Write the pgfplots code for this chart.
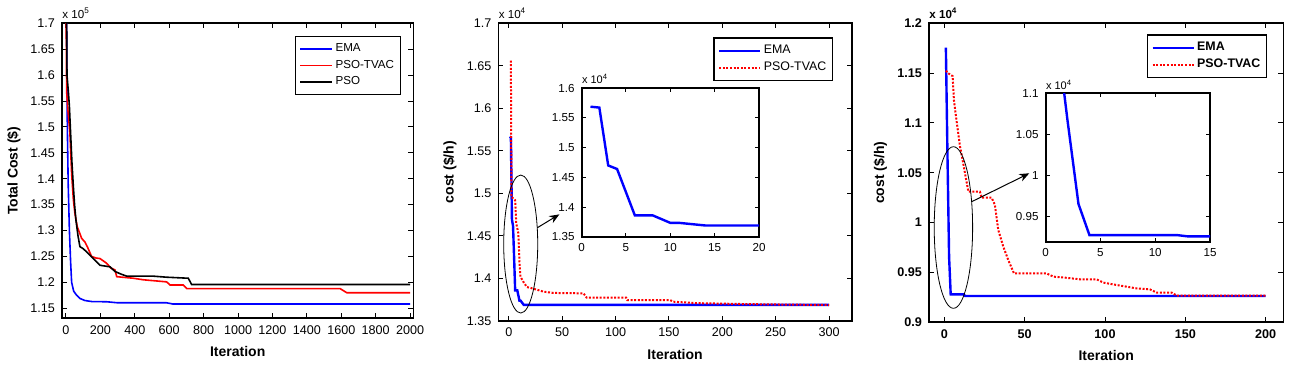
\documentclass[border=0pt]{standalone}
\usepackage{fontspec}
\setmainfont{Liberation Sans}
\usepackage{pgfplots}
\pgfplotsset{compat=1.18}
\usetikzlibrary{arrows.meta}
\newcommand{\fs}[1]{\fontsize{#1}{#1}\selectfont}
\definecolor{mblue}{rgb}{0,0,1}
\definecolor{mred}{rgb}{1,0,0}
\pgfplotsset{
  mat/.style={
    scale only axis,
    clip mode=individual,
    axis line style={line width=0.9pt},
    tick align=inside, major tick length=2.5pt,
    tick style={line width=0.5pt,black},
    ticklabel style={font=\fs{6.3}},
    every axis y label/.style={at={(axis description cs:-0.137,0.5)},rotate=90,anchor=center,font=\bfseries\fs{7}},
    every axis x label/.style={at={(axis description cs:0.5,-0.112)},anchor=center,font=\bfseries\fs{7}},
    legend style={draw=black, line width=0.7pt, font=\fs{6}, cells={anchor=west}, inner xsep=2pt, inner ysep=1.5pt, row sep=-1.3pt, nodes={inner xsep=1.2pt}},
    legend cell align=left,
  },
  inset/.style={
    scale only axis,
    clip mode=individual,
    axis background/.style={fill=white},
    axis line style={line width=0.9pt},
    tick align=inside, major tick length=2pt,
    tick style={line width=0.5pt,black},
    ticklabel style={font=\fs{5.8}},
  },
}
\begin{document}
\begin{tikzpicture}
\useasboundingbox (0,0) rectangle (654pt,189.5pt);
% ---------------- Panel 1 ----------------
\begin{axis}[mat, at={(31pt,30.35pt)}, anchor=south west,
  width=175.7pt, height=147.5pt,
  xmin=-23, xmax=2019, ymin=1.1307, ymax=1.7,
  xtick={0,200,400,600,800,1000,1200,1400,1600,1800,2000},
  xticklabels={0,200,400,600,800,1000,1200,1400,1600,1800,2000},
  ytick={1.15,1.2,1.25,1.3,1.35,1.4,1.45,1.5,1.55,1.6,1.65,1.7},
  yticklabels={1.15,1.2,1.25,1.3,1.35,1.4,1.45,1.5,1.55,1.6,1.65,1.7},
  xlabel={Iteration}, ylabel={Total Cost (\$)},
  legend style={at={(axis description cs:0.965,0.957)},anchor=north east,font=\fs{5.8}},
  legend image code/.code={\draw[#1] (0pt,0pt) -- (16pt,0pt);},
]
\addplot[mblue, line width=0.8pt] coordinates {
(1,1.85)(4,1.70)(8,1.50)(13,1.39)(20,1.30)(27,1.24)(33,1.20)(45,1.183)(60,1.176)(81,1.169)(110,1.165)(150,1.163)(237,1.1626)(300,1.1606)(585,1.1606)(622,1.1582)(2000,1.1582)};
\addplot[mred, line width=0.8pt] coordinates {
(1,1.72)(4,1.568)(12,1.53)(23,1.488)(33,1.41)(43,1.36)(52,1.333)(66,1.307)(80,1.295)(91,1.285)(110,1.278)(124,1.269)(149,1.25)(175,1.247)(198,1.246)(236,1.237)(260,1.228)(285,1.224)(295,1.211)(391,1.208)(450,1.205)(585,1.201)(605,1.195)(682,1.195)(702,1.188)(1593,1.188)(1632,1.180)(2000,1.180)};
\addplot[black, line width=0.8pt] coordinates {
(1,1.85)(6,1.60)(14,1.568)(20,1.54)(27,1.488)(35,1.43)(43,1.385)(50,1.35)(58,1.32)(70,1.29)(81,1.269)(100,1.265)(120,1.259)(159,1.246)(198,1.233)(256,1.23)(285,1.221)(320,1.216)(353,1.212)(508,1.212)(585,1.21)(711,1.208)(730,1.196)(2000,1.196)};
\legend{EMA,PSO-TVAC,PSO}
\node[anchor=south west, font=\fs{5.8}, inner sep=0pt] at (axis description cs:0,1.015) {x 10\textsuperscript{5}};
\end{axis}
% ---------------- Panel 2 ----------------
\begin{axis}[mat, at={(249.2pt,29pt)}, anchor=south west,
  width=176.7pt, height=148.8pt,
  xmin=-9.7, xmax=321.3, ymin=1.35, ymax=1.7,
  xtick={0,50,100,150,200,250,300},
  xticklabels={0,50,100,150,200,250,300},
  ytick={1.35,1.4,1.45,1.5,1.55,1.6,1.65,1.7},
  yticklabels={1.35,1.4,1.45,1.5,1.55,1.6,1.65,1.7},
  xlabel={Iteration}, ylabel={cost (\$/h)},
  legend style={at={(axis description cs:0.948,0.953)},anchor=north east,font=\fs{6.2}},
  legend image code/.code={\draw[#1] (0pt,0pt) -- (20.5pt,0pt);},
]
\addplot[mblue, line width=1.2pt] coordinates {
(1,1.567)(2,1.566)(3,1.469)(4,1.462)(5,1.425)(6,1.386)(8,1.386)(10,1.374)(11,1.374)(14,1.369)(300,1.369)};
\addplot[mred, line width=1pt, dash pattern=on 1pt off 0.8pt] coordinates {
(1,1.655)(2,1.655)(2.5,1.496)(6,1.492)(7,1.465)(9,1.453)(10,1.42)(11,1.402)(13.7,1.396)(16.9,1.39)(23,1.388)(32.5,1.3845)(41.8,1.383)(70,1.3825)(73,1.3774)(110,1.3774)(111,1.3746)(151,1.3746)(154,1.3727)(176,1.371)(217,1.37)(245,1.3695)(300,1.3688)};
\legend{EMA,PSO-TVAC}
\draw[line width=0.4pt] (axis cs:11.2,1.4405) ellipse [x radius=8.5pt, y radius=34.5pt];
\draw[line width=0.5pt,-{Stealth[length=5pt,width=4pt]}] (axis cs:26.8,1.4597) -- (axis cs:47.4,1.4754);
\node[anchor=south west, font=\fs{5.8}, inner sep=0pt] at (axis description cs:0,1.015) {x 10\textsuperscript{4}};
\end{axis}
\begin{axis}[inset, at={(290.8pt,71.15pt)}, anchor=south west,
  width=88.7pt, height=74.2pt,
  xmin=0, xmax=20, ymin=1.35, ymax=1.6,
  xtick={0,5,10,15,20}, xticklabels={0,5,10,15,20},
  ytick={1.35,1.4,1.45,1.5,1.55,1.6}, yticklabels={1.35,1.4,1.45,1.5,1.55,1.6},
]
\addplot[mblue, line width=1.2pt] coordinates {
(1,1.569)(2,1.5675)(3,1.470)(4,1.464)(5,1.425)(6,1.386)(8,1.386)(10,1.3733)(11,1.3733)(14,1.3688)(20,1.3688)};
\node[anchor=south west, font=\fs{5.5}, inner sep=0pt] at (axis description cs:0,1.03) {x 10\textsuperscript{4}};
\end{axis}
% ---------------- Panel 3 ----------------
\begin{axis}[mat, at={(464.5pt,28.35pt)}, anchor=south west,
  width=177.2pt, height=149.5pt,
  xmin=-9.5, xmax=211, ymin=0.9, ymax=1.2,
  ticklabel style={font=\bfseries\fs{6.3}},
  xtick={0,50,100,150,200},
  xticklabels={0,50,100,150,200},
  ytick={0.9,0.95,1,1.05,1.1,1.15,1.2},
  yticklabels={0.9,0.95,1,1.05,1.1,1.15,1.2},
  xlabel={Iteration}, ylabel={cost (\$/h)},
  legend style={at={(axis description cs:0.955,0.963)},anchor=north east,font=\bfseries\fs{6.2}},
  legend image code/.code={\draw[#1] (0pt,0pt) -- (20.5pt,0pt);},
]
\addplot[mblue, line width=1.2pt] coordinates {
(1,1.1756)(2,1.067)(3,0.9657)(4,0.928)(12,0.928)(13,0.9264)(200,0.9264)};
\addplot[mred, line width=1pt, dash pattern=on 1pt off 0.8pt] coordinates {
(1,1.1525)(2.5,1.1498)(5.2,1.147)(6,1.123)(7.3,1.1064)(8.7,1.0896)(9.8,1.0763)(11.4,1.063)(12.9,1.0495)(15,1.031)(22.2,1.031)(23.2,1.025)(29.5,1.025)(31.5,1.0177)(33.6,0.9926)(36.7,0.976)(39.8,0.9625)(43.4,0.949)(63.7,0.949)(67.9,0.9458)(74,0.945)(84.5,0.9431)(94.8,0.9431)(99,0.9398)(107.3,0.9374)(119.7,0.934)(128,0.933)(132.2,0.9298)(141.5,0.9298)(144.6,0.9268)(200,0.9268)};
\legend{EMA,PSO-TVAC}
\draw[line width=0.4pt] (axis cs:5.7,0.9951) ellipse [x radius=9.6pt, y radius=40.4pt];
\draw[line width=0.5pt,-{Stealth[length=5pt,width=4pt]}] (axis cs:17.05,1.021) -- (axis cs:52.9,1.0495);
\node[anchor=south west, font=\bfseries\fs{5.8}, inner sep=0pt] at (axis description cs:0,1.015) {x 10\textsuperscript{4}};
\end{axis}
\begin{axis}[inset, at={(522.8pt,68.65pt)}, anchor=south west,
  width=82.2pt, height=74.2pt,
  xmin=0, xmax=15, ymin=0.92, ymax=1.1,
  xtick={0,5,10,15}, xticklabels={0,5,10,15},
  ytick={0.95,1,1.05,1.1}, yticklabels={0.95,1,1.05,1.1},
]
\addplot[mblue, line width=1.2pt] coordinates {
(1,1.1756)(2,1.067)(3,0.9657)(4,0.928)(12,0.928)(13,0.9264)(15,0.9264)};
\node[anchor=south west, font=\fs{5.5}, inner sep=0pt] at (axis description cs:0,1.02) {x 10\textsuperscript{4}};
\end{axis}
\end{tikzpicture}
\end{document}
